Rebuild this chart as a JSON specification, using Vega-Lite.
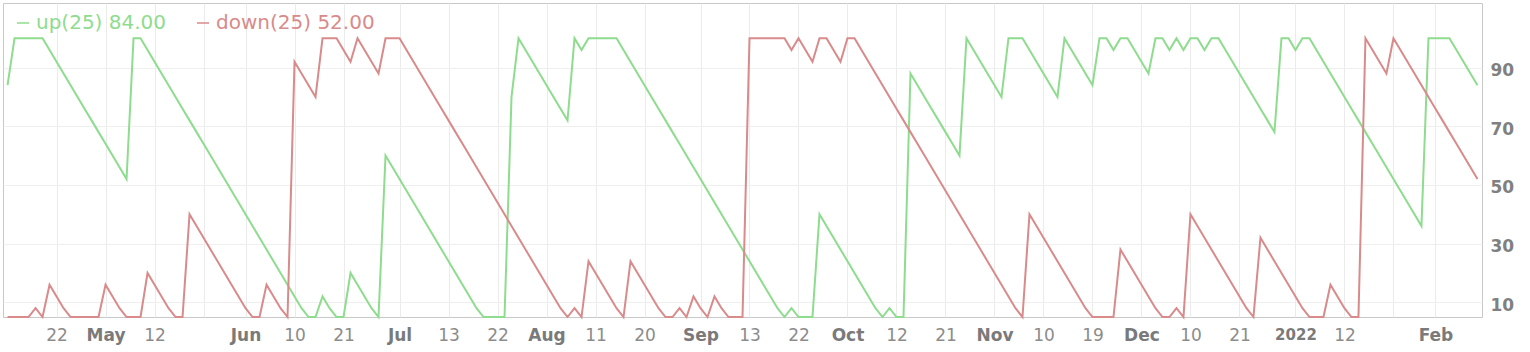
{
  "$schema": "https://vega.github.io/schema/vega-lite/v6.json",
  "width": 1479,
  "height": 314,
  "autosize": {"type": "none"},
  "padding": {"left": 3, "top": 3, "right": 48, "bottom": 35},
  "background": "white",
  "config": {"view": {"stroke": "#c8c8c8", "strokeWidth": 1}, "font": "DejaVu Sans"},
  "data": {"values": [
    {"date":"2021-04-13","up":84,"down":4},{"date":"2021-04-14","up":100,"down":4},{"date":"2021-04-15","up":100,"down":4},{"date":"2021-04-16","up":100,"down":4},
    {"date":"2021-04-19","up":100,"down":8},{"date":"2021-04-20","up":100,"down":4},{"date":"2021-04-21","up":96,"down":16},{"date":"2021-04-22","up":92,"down":12},
    {"date":"2021-04-23","up":88,"down":8},{"date":"2021-04-26","up":84,"down":4},{"date":"2021-04-27","up":80,"down":4},{"date":"2021-04-28","up":76,"down":4},
    {"date":"2021-04-29","up":72,"down":4},{"date":"2021-04-30","up":68,"down":4},{"date":"2021-05-03","up":64,"down":16},{"date":"2021-05-04","up":60,"down":12},
    {"date":"2021-05-05","up":56,"down":8},{"date":"2021-05-06","up":52,"down":4},{"date":"2021-05-07","up":100,"down":4},{"date":"2021-05-10","up":100,"down":4},
    {"date":"2021-05-11","up":96,"down":20},{"date":"2021-05-12","up":92,"down":16},{"date":"2021-05-13","up":88,"down":12},{"date":"2021-05-14","up":84,"down":8},
    {"date":"2021-05-17","up":80,"down":4},{"date":"2021-05-18","up":76,"down":4},{"date":"2021-05-19","up":72,"down":40},{"date":"2021-05-20","up":68,"down":36},
    {"date":"2021-05-21","up":64,"down":32},{"date":"2021-05-24","up":60,"down":28},{"date":"2021-05-25","up":56,"down":24},{"date":"2021-05-26","up":52,"down":20},
    {"date":"2021-05-27","up":48,"down":16},{"date":"2021-05-28","up":44,"down":12},{"date":"2021-06-01","up":40,"down":8},{"date":"2021-06-02","up":36,"down":4},
    {"date":"2021-06-03","up":32,"down":4},{"date":"2021-06-04","up":28,"down":16},{"date":"2021-06-07","up":24,"down":12},{"date":"2021-06-08","up":20,"down":8},
    {"date":"2021-06-09","up":16,"down":4},{"date":"2021-06-10","up":12,"down":92},{"date":"2021-06-11","up":8,"down":88},{"date":"2021-06-14","up":4,"down":84},
    {"date":"2021-06-15","up":4,"down":80},{"date":"2021-06-16","up":12,"down":100},{"date":"2021-06-17","up":8,"down":100},{"date":"2021-06-18","up":4,"down":100},
    {"date":"2021-06-21","up":4,"down":96},{"date":"2021-06-22","up":20,"down":92},{"date":"2021-06-23","up":16,"down":100},{"date":"2021-06-24","up":12,"down":96},
    {"date":"2021-06-25","up":8,"down":92},{"date":"2021-06-28","up":4,"down":88},{"date":"2021-06-29","up":60,"down":100},{"date":"2021-06-30","up":56,"down":100},
    {"date":"2021-07-01","up":52,"down":100},{"date":"2021-07-02","up":48,"down":96},{"date":"2021-07-06","up":44,"down":92},{"date":"2021-07-07","up":40,"down":88},
    {"date":"2021-07-08","up":36,"down":84},{"date":"2021-07-09","up":32,"down":80},{"date":"2021-07-12","up":28,"down":76},{"date":"2021-07-13","up":24,"down":72},
    {"date":"2021-07-14","up":20,"down":68},{"date":"2021-07-15","up":16,"down":64},{"date":"2021-07-16","up":12,"down":60},{"date":"2021-07-19","up":8,"down":56},
    {"date":"2021-07-20","up":4,"down":52},{"date":"2021-07-21","up":4,"down":48},{"date":"2021-07-22","up":4,"down":44},{"date":"2021-07-23","up":4,"down":40},
    {"date":"2021-07-26","up":80,"down":36},{"date":"2021-07-27","up":100,"down":32},{"date":"2021-07-28","up":96,"down":28},{"date":"2021-07-29","up":92,"down":24},
    {"date":"2021-07-30","up":88,"down":20},{"date":"2021-08-02","up":84,"down":16},{"date":"2021-08-03","up":80,"down":12},{"date":"2021-08-04","up":76,"down":8},
    {"date":"2021-08-05","up":72,"down":4},{"date":"2021-08-06","up":100,"down":8},{"date":"2021-08-09","up":96,"down":4},{"date":"2021-08-10","up":100,"down":24},
    {"date":"2021-08-11","up":100,"down":20},{"date":"2021-08-12","up":100,"down":16},{"date":"2021-08-13","up":100,"down":12},{"date":"2021-08-16","up":100,"down":8},
    {"date":"2021-08-17","up":96,"down":4},{"date":"2021-08-18","up":92,"down":24},{"date":"2021-08-19","up":88,"down":20},{"date":"2021-08-20","up":84,"down":16},
    {"date":"2021-08-23","up":80,"down":12},{"date":"2021-08-24","up":76,"down":8},{"date":"2021-08-25","up":72,"down":4},{"date":"2021-08-26","up":68,"down":4},
    {"date":"2021-08-27","up":64,"down":8},{"date":"2021-08-30","up":60,"down":4},{"date":"2021-08-31","up":56,"down":12},{"date":"2021-09-01","up":52,"down":8},
    {"date":"2021-09-02","up":48,"down":4},{"date":"2021-09-03","up":44,"down":12},{"date":"2021-09-07","up":40,"down":8},{"date":"2021-09-08","up":36,"down":4},
    {"date":"2021-09-09","up":32,"down":4},{"date":"2021-09-10","up":28,"down":4},{"date":"2021-09-13","up":24,"down":100},{"date":"2021-09-14","up":20,"down":100},
    {"date":"2021-09-15","up":16,"down":100},{"date":"2021-09-16","up":12,"down":100},{"date":"2021-09-17","up":8,"down":100},{"date":"2021-09-20","up":4,"down":100},
    {"date":"2021-09-21","up":8,"down":96},{"date":"2021-09-22","up":4,"down":100},{"date":"2021-09-23","up":4,"down":96},{"date":"2021-09-24","up":4,"down":92},
    {"date":"2021-09-27","up":40,"down":100},{"date":"2021-09-28","up":36,"down":100},{"date":"2021-09-29","up":32,"down":96},{"date":"2021-09-30","up":28,"down":92},
    {"date":"2021-10-01","up":24,"down":100},{"date":"2021-10-04","up":20,"down":100},{"date":"2021-10-05","up":16,"down":96},{"date":"2021-10-06","up":12,"down":92},
    {"date":"2021-10-07","up":8,"down":88},{"date":"2021-10-08","up":4,"down":84},{"date":"2021-10-11","up":8,"down":80},{"date":"2021-10-12","up":4,"down":76},
    {"date":"2021-10-13","up":4,"down":72},{"date":"2021-10-14","up":88,"down":68},{"date":"2021-10-15","up":84,"down":64},{"date":"2021-10-18","up":80,"down":60},
    {"date":"2021-10-19","up":76,"down":56},{"date":"2021-10-20","up":72,"down":52},{"date":"2021-10-21","up":68,"down":48},{"date":"2021-10-22","up":64,"down":44},
    {"date":"2021-10-25","up":60,"down":40},{"date":"2021-10-26","up":100,"down":36},{"date":"2021-10-27","up":96,"down":32},{"date":"2021-10-28","up":92,"down":28},
    {"date":"2021-10-29","up":88,"down":24},{"date":"2021-11-01","up":84,"down":20},{"date":"2021-11-02","up":80,"down":16},{"date":"2021-11-03","up":100,"down":12},
    {"date":"2021-11-04","up":100,"down":8},{"date":"2021-11-05","up":100,"down":4},{"date":"2021-11-08","up":96,"down":40},{"date":"2021-11-09","up":92,"down":36},
    {"date":"2021-11-10","up":88,"down":32},{"date":"2021-11-11","up":84,"down":28},{"date":"2021-11-12","up":80,"down":24},{"date":"2021-11-15","up":100,"down":20},
    {"date":"2021-11-16","up":96,"down":16},{"date":"2021-11-17","up":92,"down":12},{"date":"2021-11-18","up":88,"down":8},{"date":"2021-11-19","up":84,"down":4},
    {"date":"2021-11-22","up":100,"down":4},{"date":"2021-11-23","up":100,"down":4},{"date":"2021-11-24","up":96,"down":4},{"date":"2021-11-26","up":100,"down":28},
    {"date":"2021-11-29","up":100,"down":24},{"date":"2021-11-30","up":96,"down":20},{"date":"2021-12-01","up":92,"down":16},{"date":"2021-12-02","up":88,"down":12},
    {"date":"2021-12-03","up":100,"down":8},{"date":"2021-12-06","up":100,"down":4},{"date":"2021-12-07","up":96,"down":4},{"date":"2021-12-08","up":100,"down":8},
    {"date":"2021-12-09","up":96,"down":4},{"date":"2021-12-10","up":100,"down":40},{"date":"2021-12-13","up":100,"down":36},{"date":"2021-12-14","up":96,"down":32},
    {"date":"2021-12-15","up":100,"down":28},{"date":"2021-12-16","up":100,"down":24},{"date":"2021-12-17","up":96,"down":20},{"date":"2021-12-20","up":92,"down":16},
    {"date":"2021-12-21","up":88,"down":12},{"date":"2021-12-22","up":84,"down":8},{"date":"2021-12-23","up":80,"down":4},{"date":"2021-12-27","up":76,"down":32},
    {"date":"2021-12-28","up":72,"down":28},{"date":"2021-12-29","up":68,"down":24},{"date":"2021-12-30","up":100,"down":20},{"date":"2021-12-31","up":100,"down":16},
    {"date":"2022-01-03","up":96,"down":12},{"date":"2022-01-04","up":100,"down":8},{"date":"2022-01-05","up":100,"down":4},{"date":"2022-01-06","up":96,"down":4},
    {"date":"2022-01-07","up":92,"down":4},{"date":"2022-01-10","up":88,"down":16},{"date":"2022-01-11","up":84,"down":12},{"date":"2022-01-12","up":80,"down":8},
    {"date":"2022-01-13","up":76,"down":4},{"date":"2022-01-14","up":72,"down":4},{"date":"2022-01-18","up":68,"down":100},{"date":"2022-01-19","up":64,"down":96},
    {"date":"2022-01-20","up":60,"down":92},{"date":"2022-01-21","up":56,"down":88},{"date":"2022-01-24","up":52,"down":100},{"date":"2022-01-25","up":48,"down":96},
    {"date":"2022-01-26","up":44,"down":92},{"date":"2022-01-27","up":40,"down":88},{"date":"2022-01-28","up":36,"down":84},{"date":"2022-01-31","up":100,"down":80},
    {"date":"2022-02-01","up":100,"down":76},{"date":"2022-02-02","up":100,"down":72},{"date":"2022-02-03","up":100,"down":68},{"date":"2022-02-04","up":96,"down":64},
    {"date":"2022-02-07","up":92,"down":60},{"date":"2022-02-08","up":88,"down":56},{"date":"2022-02-09","up":84,"down":52}
  ]},
  "transform": [{"fold": ["up", "down"], "as": ["series", "value"]}],
  "mark": {"type": "line", "strokeWidth": 2, "interpolate": "linear"},
  "encoding": {
    "x": {
      "field": "date",
      "type": "ordinal",
      "scale": {"type": "point", "padding": 0.65},
      "axis": {
        "title": null,
        "values": ["2021-04-22","2021-05-03","2021-05-12","2021-05-21","2021-06-01","2021-06-10","2021-06-21","2021-07-01","2021-07-13","2021-07-22","2021-08-02","2021-08-11","2021-08-20","2021-09-01","2021-09-13","2021-09-22","2021-10-01","2021-10-12","2021-10-21","2021-11-01","2021-11-10","2021-11-19","2021-12-01","2021-12-10","2021-12-21","2022-01-03","2022-01-12","2022-01-24","2022-02-01"],
        "labelExpr": "{'2021-04-22':'22','2021-05-03':'May','2021-05-12':'12','2021-05-21':'','2021-06-01':'Jun','2021-06-10':'10','2021-06-21':'21','2021-07-01':'Jul','2021-07-13':'13','2021-07-22':'22','2021-08-02':'Aug','2021-08-11':'11','2021-08-20':'20','2021-09-01':'Sep','2021-09-13':'13','2021-09-22':'22','2021-10-01':'Oct','2021-10-12':'12','2021-10-21':'21','2021-11-01':'Nov','2021-11-10':'10','2021-11-19':'19','2021-12-01':'Dec','2021-12-10':'10','2021-12-21':'21','2022-01-03':'2022','2022-01-12':'12','2022-01-24':'','2022-02-01':'Feb'}[datum.value]",
        "labelAngle": 0,
        "labelFontSize": {"condition": {"test": "datum.value == '2022-01-03'", "value": 15}, "value": 17},
        "labelFontWeight": {"condition": {"test": "indexof(['2021-05-03','2021-06-01','2021-07-01','2021-08-02','2021-09-01','2021-10-01','2021-11-01','2021-12-01','2022-01-03','2022-02-01'], datum.value) >= 0", "value": "bold"}, "value": "normal"},
        "labelColor": {"condition": {"test": "indexof(['2021-05-03','2021-06-01','2021-07-01','2021-08-02','2021-09-01','2021-10-01','2021-11-01','2021-12-01','2022-01-03','2022-02-01'], datum.value) >= 0", "value": "#7a7a7a"}, "value": "#8c8c8c"},
        "labelPadding": 10,
        "labelOverlap": false,
        "labelBaseline": "top",
        "ticks": false,
        "domain": false,
        "grid": true,
        "gridColor": "#ebebeb",
        "gridWidth": 1
      }
    },
    "y": {
      "field": "value",
      "type": "quantitative",
      "scale": {"domain": [5, 112], "nice": false, "zero": false, "clamp": true},
      "axis": {
        "title": null,
        "orient": "right",
        "values": [10, 30, 50, 70, 90],
        "labelFontSize": 17,
        "labelFontWeight": "bold",
        "labelColor": "#808080",
        "labelPadding": 8,
        "labelOffset": 3,
        "ticks": false,
        "domain": false,
        "grid": true,
        "gridColor": "#efefef",
        "gridWidth": 1
      }
    },
    "color": {
      "field": "series",
      "type": "nominal",
      "scale": {"domain": ["up", "down"], "range": ["#8edc8e", "#d98a8a"]},
      "legend": {
        "orient": "top-left",
        "direction": "horizontal",
        "title": null,
        "offset": 10,
        "padding": 0,
        "symbolType": "stroke",
        "symbolSize": 144,
        "symbolStrokeWidth": 1.5,
        "labelFontSize": 20,
        "labelOffset": 3,
        "columnPadding": 26,
        "labelLimit": 400,
        "labelExpr": "datum.value == 'up' ? 'up(25) 84.00' : 'down(25) 52.00'",
        "encoding": {"labels": {"fill": {"condition": {"test": "datum.value == 'up'", "value": "#8edc8e"}, "value": "#d98a8a"}}}
      }
    }
  }
}
